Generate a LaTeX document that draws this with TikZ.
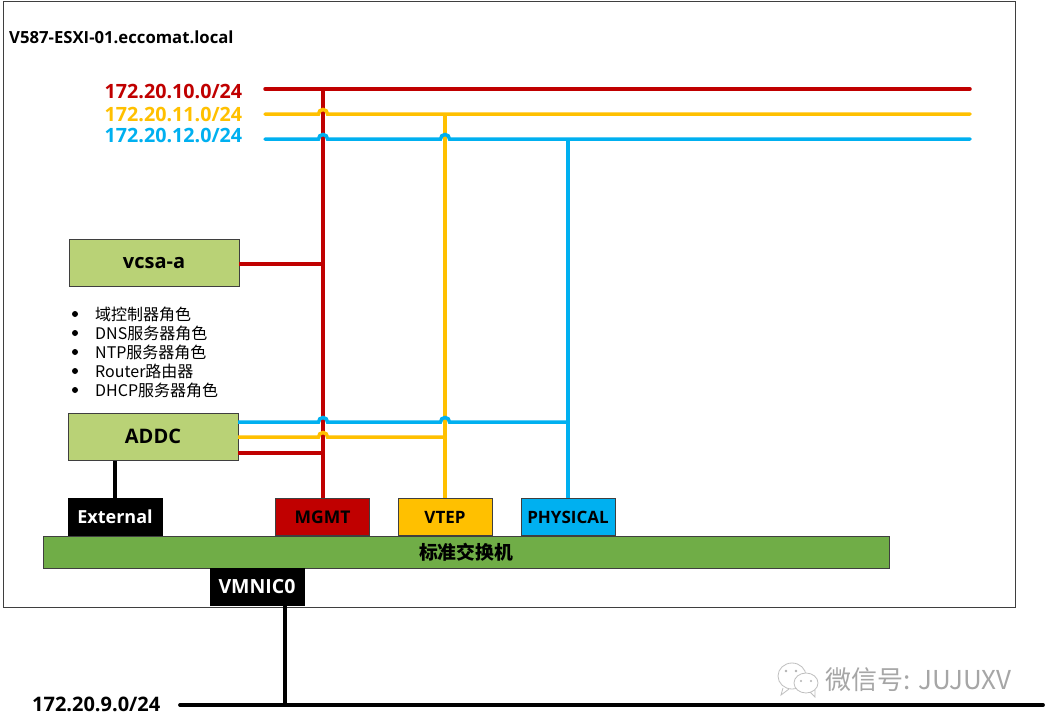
\documentclass[tikz,border=0pt]{standalone}
\usepackage{fontspec}
\setmainfont{Open Sans}
\newfontfamily\cjk{Noto Sans CJK SC}
\definecolor{cred}{HTML}{C00000}
\definecolor{cyel}{HTML}{FFC000}
\definecolor{cblu}{HTML}{00B0F0}
\definecolor{cgrn}{HTML}{70AD47}
\definecolor{clgn}{HTML}{B9D276}
\definecolor{cedge}{HTML}{3F3F3F}
\newcommand{\fs}[1]{\fontsize{#1pt}{#1pt}\selectfont}
\tikzset{
  lbl/.style={inner sep=0pt,anchor=west,font=\fs{19.7}\bfseries},
  item/.style={inner sep=0pt,anchor=west,font=\fs{16}\cjk,text=black},
  dotb/.style={circle,fill=black,inner sep=0pt,minimum size=6pt},
  box/.style={draw=cedge,line width=0.8pt,inner sep=0pt,font=\bfseries},
  bbox/.style={box,draw=black,fill=black,text=white,minimum width=94pt,minimum height=37pt},
  wire/.style={line width=3.5pt,line cap=round},
  bwire/.style={line width=3.8pt,draw=black,line cap=round}
}
\newcommand{\hop}[1]{-- ([xshift=-4.5pt]#1) arc[start angle=180,end angle=0,radius=4.5pt]}
\begin{document}
\begin{tikzpicture}[x=1pt,y=-1pt]
\useasboundingbox (0,0) rectangle (1045,726);
\fill[white] (0,0) rectangle (1045,726);
\node[draw=cedge,line width=0.9pt,minimum width=1012pt,minimum height=606pt,inner sep=0pt] (host) at (509,304) {};
\node[inner sep=0pt,anchor=west,font=\fs{16.7}\bfseries] (hostname) at (9,37) {V587-ESXI-01.eccomat.local};

\node[lbl,text=cred] (n10) at (104.5,91) {172.20.10.0/24};
\node[lbl,text=cyel] (n11) at (104.5,114) {172.20.11.0/24};
\node[lbl,text=cblu] (n12) at (104.5,135) {172.20.12.0/24};

\node[box,fill=clgn,minimum width=170pt,minimum height=47pt,font=\fs{20}\bfseries] (vcsa) at (154,263) {\raisebox{-2pt}{vcsa-a}};
\node[box,fill=clgn,minimum width=170pt,minimum height=47pt,font=\fs{20}\bfseries] (addc) at (153,437) {\raisebox{0.5pt}{ADDC}};

\node[dotb] (b1) at (75,314) {}; \node[item] (t1) at (95,314) {域控制器角色};
\node[dotb] (b2) at (75,333) {}; \node[item] (t2) at (95,333) {DNS服务器角色};
\node[dotb] (b3) at (75,352) {}; \node[item] (t3) at (95,352) {NTP服务器角色};
\node[dotb] (b4) at (75,371) {}; \node[item] (t4) at (95,371) {Router路由器};
\node[dotb] (b5) at (75,390) {}; \node[item] (t5) at (95,390) {DHCP服务器角色};

\node[bbox,font=\fs{18}\bfseries] (ext) at (115,517) {External};
\node[box,fill=cred,minimum width=94pt,minimum height=37pt,font=\fs{17.5}\bfseries] (mgmt) at (322.5,517) {MGMT};
\node[box,fill=cyel,minimum width=94pt,minimum height=37pt,font=\fs{17}\bfseries] (vtep) at (445,517) {VTEP};
\node[box,fill=cblu,minimum width=94pt,minimum height=37pt,font=\fs{17}\bfseries] (phys) at (568,517) {PHYSICAL};
\node[box,fill=cgrn,minimum width=846pt,minimum height=32pt,font=\fs{18.8}\bfseries\cjk] (sw) at (466,552.5) {标准交换机};
\node[bbox,font=\fs{19.5}\bfseries] (vmnic) at (257,587) {VMNIC0};

\node[inner sep=0pt,anchor=west,font=\fs{20}\bfseries] (n9) at (32,704) {172.20.9.0/24};

% named points on the three network lines
\coordinate (r0) at (265,89);  \coordinate (r1) at (970,89);
\coordinate (y0) at (265,114); \coordinate (y1) at (970,114);
\coordinate (c0) at (265,139); \coordinate (c1) at (970,139);
\coordinate (rt) at (323,89);  \coordinate (yt) at (445,114); \coordinate (ct) at (568,139);
\coordinate (jry) at (323,114); \coordinate (jrc) at (323,139); \coordinate (jyc) at (445,139);
\coordinate (vj) at (323,264);
\coordinate (ab) at (238,422); \coordinate (ay) at (238,437); \coordinate (ar) at (238,453);
\coordinate (jab) at (323,422); \coordinate (jyb) at (445,422); \coordinate (ce) at (568,422);
\coordinate (jay) at (323,437); \coordinate (ye) at (445,437); \coordinate (re) at (323,453);
\coordinate (g0) at (180,705); \coordinate (g1) at (1043,705); \coordinate (gj) at (285,705);
\coordinate (vm) at (285,606); \coordinate (ex) at (115,461);

% verticals
\draw[wire,draw=cred,line cap=butt] (rt) -- (mgmt.north -| rt);
\draw[wire,draw=cyel,line cap=butt] (yt) -- (vtep.north);
\draw[wire,draw=cblu,line cap=butt] (ct) -- (phys.north);
% network rails
\draw[wire,draw=cred] (r0) -- (r1);
\draw[wire,draw=cyel] (y0) \hop{jry} -- (y1);
\draw[wire,draw=cblu] (c0) \hop{jrc} \hop{jyc} -- (c1);
% vm links
\draw[wire,draw=cred,line cap=butt] (vj) -- (vj -| vcsa.east);
\draw[wire,draw=cblu,line cap=butt] (ab) \hop{jab} \hop{jyb} -- (ce);
\draw[wire,draw=cyel,line cap=butt] (ay) \hop{jay} -- (ye);
\draw[wire,draw=cred,line cap=butt] (ar) -- (re);
% black links
\draw[bwire,line cap=butt] (addc.south -| ex) -- (ext.north -| ex);
\draw[bwire,line cap=butt] (vm) -- (gj);
\draw[bwire] (g0) -- (g1);

% watermark
\draw[gray!50,line width=0.8pt,fill=white] (792,676) ellipse[x radius=14pt,y radius=13pt];
\draw[gray!50,line width=0.8pt] (783,688) -- (781,695) -- (789,689);
\fill[gray!60] (786,671) circle[radius=1.4pt] (796,671) circle[radius=1.4pt];
\draw[gray!50,line width=0.8pt,fill=white] (806,683) ellipse[x radius=12pt,y radius=10pt];
\draw[gray!50,line width=0.8pt] (810,692) -- (815,697) -- (815,690);
\fill[gray!60] (801,681) circle[radius=1.2pt] (811,681) circle[radius=1.2pt];
\node[inner sep=0pt,anchor=west,font=\fs{26}\cjk,text=gray!70] (wm) at (825,680) {微信号: JUJUXV};
\end{tikzpicture}
\end{document}
